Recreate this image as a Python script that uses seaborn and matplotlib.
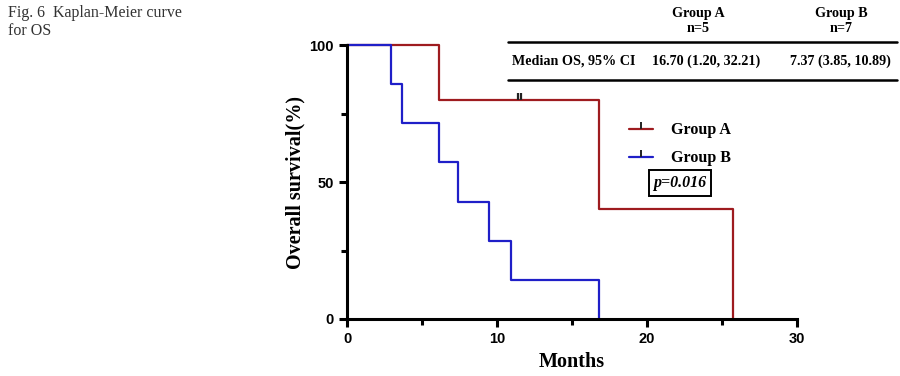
import numpy as np
import pandas as pd
import seaborn as sns
import matplotlib.pyplot as plt
from matplotlib.lines import Line2D

sns.set_style('ticks')
plt.rcParams['text.color'] = 'black'

# datos (meses, 1 = evento, 0 = censurado)
groups = ['Group A', 'Group B']
times_a = [6.1, 11.4, 11.6, 16.8, 25.7]
events_a = [1, 0, 0, 1, 1]
times_b = [2.95, 3.67, 6.1, 7.4, 9.47, 10.93, 16.8]
events_b = [1, 1, 1, 1, 1, 1, 1]
colors = ['#9e1b1f', '#1f1fc8']

table_cols = ['Group A\nn=5', 'Group B\nn=7']
table_row = 'Median OS, 95% CI'
table_vals = ['16.70 (1.20, 32.21)', '7.37 (3.85, 10.89)']
p_text = 'p=0.016'


def km_steps(times, events):
    # estimador Kaplan-Meier como escalones
    t = np.array(times, dtype=float)
    e = np.array(events)
    surv = 100.0
    xs, ys, cx, cy = [0.0], [100.0], [], []
    for ut in np.unique(t):
        at_risk = np.sum(t >= ut)
        d = np.sum((t == ut) & (e == 1))
        if d > 0:
            surv = surv * (1 - d / at_risk)
            xs.append(ut)
            ys.append(surv)
        c = np.sum((t == ut) & (e == 0))
        if c > 0:
            cx.append(ut)
            cy.append(surv)
    return xs, ys, cx, cy


rows, cens = [], []
for g, t, e in zip(groups, [times_a, times_b], [events_a, events_b]):
    xs, ys, cx, cy = km_steps(t, e)
    rows += [{'Months': x, 'Survival': y, 'Group': g} for x, y in zip(xs, ys)]
    cens += [{'Months': x, 'Survival': y, 'Group': g} for x, y in zip(cx, cy)]
df = pd.DataFrame(rows)
df_c = pd.DataFrame(cens)

fig = plt.figure(figsize=(9, 3.76), dpi=100)
ax = fig.add_axes([0.3856, 0.1516, 0.5, 0.7287])

for g, col in zip(groups, colors):
    sub = df[df['Group'] == g]
    sns.lineplot(data=sub, x='Months', y='Survival', ax=ax, color=col,
                 drawstyle='steps-post', estimator=None, linewidth=1.6,
                 legend=False, clip_on=False)
    sub_c = df_c[df_c['Group'] == g]
    if len(sub_c):
        ax.plot(sub_c['Months'], sub_c['Survival'], linestyle='none',
                marker=2, markersize=5, markeredgewidth=1.6, color='#222222',
                clip_on=False)

ax.set_xlim(0, 30)
ax.set_ylim(0, 100)
ax.set_xticks([0, 10, 20, 30])
ax.set_xticks([5, 15, 25], minor=True)
ax.set_yticks([0, 50, 100])
ax.set_yticks([25, 75], minor=True)
sns.despine(ax=ax)
for s in ['left', 'bottom']:
    ax.spines[s].set_linewidth(2.2)
    ax.spines[s].set_color('black')
ax.tick_params(which='major', width=2.2, length=6, direction='out',
               color='black', labelcolor='black')
ax.tick_params(which='minor', width=2.2, length=4, direction='out',
               color='black')
for lab in ax.get_xticklabels() + ax.get_yticklabels():
    lab.set_fontfamily('Liberation Sans')
    lab.set_fontweight('bold')
    lab.set_fontsize(10.5)

ax.set_xlabel('Months', fontfamily='Liberation Serif', fontweight='bold',
              fontsize=14.5, labelpad=4, color='black')
ax.set_ylabel('Overall survival(%)', fontfamily='Liberation Serif',
              fontweight='bold', fontsize=14.5, labelpad=3, color='black')

handles = [Line2D([], [], color=c, linewidth=1.6, marker=2, markersize=5,
                  markeredgecolor='#222222', markeredgewidth=1.4)
           for c in colors]
leg = ax.legend(handles, groups, loc='upper left',
                bbox_to_anchor=(0.595, 0.77),
                frameon=False, handlelength=1.5, handletextpad=1.1,
                labelspacing=0.75,
                prop={'family': 'Liberation Serif', 'weight': 'bold',
                      'size': 11.5})

ax.text(22.2, 49.6, p_text, ha='center', va='center', fontsize=11.5,
        fontfamily='Liberation Serif', fontweight='bold', fontstyle='italic',
        bbox=dict(boxstyle='square,pad=0.3', facecolor='white',
                  edgecolor='black', linewidth=1.4))

# tabla superior
serif_b = dict(fontfamily='Liberation Serif', fontweight='bold', fontsize=10.2)
head_x = [698 / 900, 841 / 900]
val_x = [706 / 900, 840 / 900]
for hx, vx, c, v in zip(head_x, val_x, table_cols, table_vals):
    fig.text(hx, 1 - 21 / 376, c, ha='center', va='center',
             linespacing=1.3, **serif_b)
    fig.text(vx, 1 - 61 / 376, v, ha='center', va='center', **serif_b)
fig.text(512 / 900, 1 - 61 / 376, table_row, ha='left', va='center', **serif_b)
for yy in [42, 80]:
    fig.add_artist(Line2D([508 / 900, 897 / 900], [1 - yy / 376] * 2,
                          color='black', linewidth=1.8))

fig.text(8 / 900, 1 - 5 / 376, 'Fig. 6  Kaplan-Meier curve\nfor OS', ha='left',
         va='top', fontfamily='Liberation Serif', fontsize=11.5,
         color='#333333', linespacing=1.15)

plt.savefig('out.png', dpi=100)
